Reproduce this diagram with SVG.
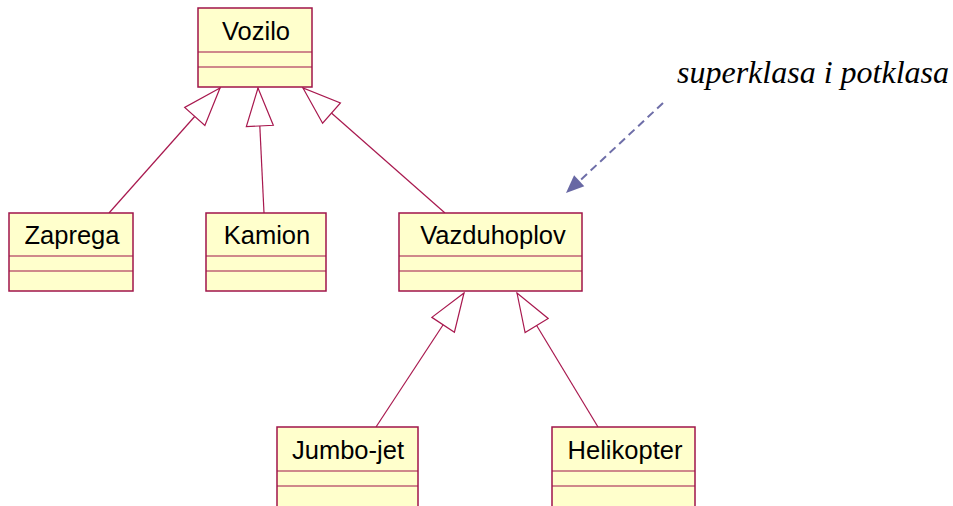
<svg xmlns="http://www.w3.org/2000/svg" width="953" height="506" viewBox="0 0 953 506">
<style>
.box{fill:#FFFFCC;stroke:#A0154A;stroke-width:1.5}
.sep{stroke:#A0154A;stroke-width:1.2}
.lbl{font-family:"Liberation Sans",Arial,sans-serif;font-size:25.5px;fill:#000;text-anchor:middle}
.gen{stroke:#A8184E;stroke-width:1.2;fill:none;marker-end:url(#tri)}
.note{font-family:"Liberation Serif","Times New Roman",serif;font-style:italic;font-size:32px;fill:#000}
</style>
<defs>
<marker id="tri" markerUnits="userSpaceOnUse" viewBox="-40 -15 42 30" markerWidth="42" markerHeight="30" refX="0" refY="0" orient="auto" overflow="visible">
<path d="M0,0 L-38,-13.5 L-38,13.5 Z" fill="#FFFFFF" stroke="#A8184E" stroke-width="1.2" stroke-linejoin="miter"/>
</marker>
<marker id="arr" markerUnits="userSpaceOnUse" viewBox="-20 -9 22 18" markerWidth="22" markerHeight="18" refX="0" refY="0" orient="auto" overflow="visible">
<path d="M0,0 L-18,-7.5 L-18,7.5 Z" fill="#6868A4"/>
</marker>
</defs>
<g id="connectors">
<path class="gen" d="M109,213 L220,88"/>
<path class="gen" d="M264,213 L258,88"/>
<path class="gen" d="M445,213 L303,88"/>
<path class="gen" d="M376,427 L464,293"/>
<path class="gen" d="M598,427 L517,293"/>
<path d="M663,103 L572,188" stroke="#6E6EA8" stroke-width="2" stroke-dasharray="8,5" fill="none"/>
<path d="M663,103 L566,193" stroke="none" fill="none" marker-end="url(#arr)"/>
</g>
<g id="Vozilo">
<rect class="box" x="198" y="8" width="114" height="79"/>
<line class="sep" x1="198" y1="52" x2="312" y2="52"/>
<line class="sep" x1="198" y1="67" x2="312" y2="67"/>
<text class="lbl" x="256" y="40">Vozilo</text>
</g>
<g id="Zaprega">
<rect class="box" x="9" y="213" width="124" height="78"/>
<line class="sep" x1="9" y1="256" x2="133" y2="256"/>
<line class="sep" x1="9" y1="271" x2="133" y2="271"/>
<text class="lbl" x="72" y="244">Zaprega</text>
</g>
<g id="Kamion">
<rect class="box" x="206" y="213" width="120" height="78"/>
<line class="sep" x1="206" y1="256" x2="326" y2="256"/>
<line class="sep" x1="206" y1="271" x2="326" y2="271"/>
<text class="lbl" x="267" y="244">Kamion</text>
</g>
<g id="Vazduhoplov">
<rect class="box" x="399" y="213" width="183" height="78"/>
<line class="sep" x1="399" y1="256" x2="582" y2="256"/>
<line class="sep" x1="399" y1="271" x2="582" y2="271"/>
<text class="lbl" x="493" y="244">Vazduhoplov</text>
</g>
<g id="Jumbo-jet">
<rect class="box" x="277" y="427" width="141" height="90"/>
<line class="sep" x1="277" y1="471" x2="418" y2="471"/>
<line class="sep" x1="277" y1="486" x2="418" y2="486"/>
<text class="lbl" x="348" y="459">Jumbo-jet</text>
</g>
<g id="Helikopter">
<rect class="box" x="552" y="427" width="143" height="90"/>
<line class="sep" x1="552" y1="471" x2="695" y2="471"/>
<line class="sep" x1="552" y1="486" x2="695" y2="486"/>
<text class="lbl" x="625" y="459">Helikopter</text>
</g>
<g id="note">
<text class="note" x="677" y="83">superklasa i potklasa</text>
</g>
</svg>
